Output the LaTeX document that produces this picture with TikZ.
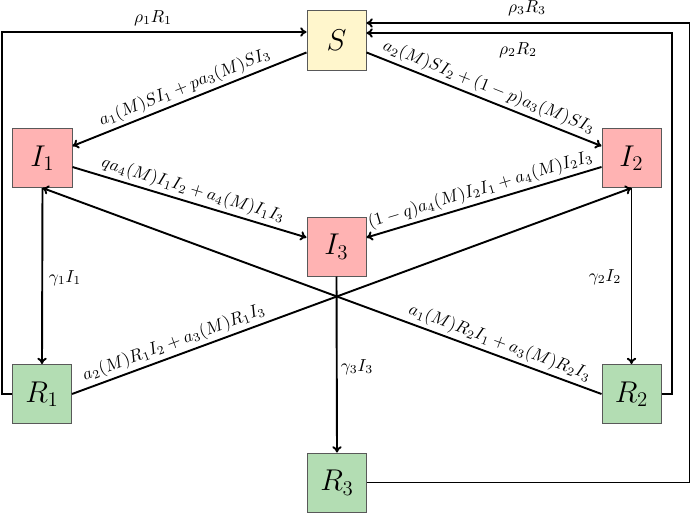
\documentclass[tikz,border=0pt]{standalone}
\usetikzlibrary{calc,arrows.meta}
\definecolor{yfill}{RGB}{255,246,204}
\definecolor{ifill}{RGB}{255,179,179}
\definecolor{rfill}{RGB}{179,221,179}
\begin{document}
\begin{tikzpicture}[x=0.575pt,y=-0.575pt,
  box/.style={draw=black!65, line width=0.5pt, minimum width=34pt, minimum height=34pt, inner sep=0pt, font=\LARGE},
  sbox/.style={box, fill=yfill},
  ibox/.style={box, fill=ifill},
  rbox/.style={box, fill=rfill},
  flow/.style={-{To[length=3.6pt,width=5.4pt]}, line width=1.1pt},
  lab/.style={font=\normalsize, inner sep=1.8pt}]
\useasboundingbox (0,0) rectangle (691,513);
\node[sbox] (S) at (336.5,40.5) {$S$};
\node[ibox] (I1) at (42.5,158) {$I_1$};
\node[ibox] (I2) at (631.5,158) {$I_2$};
\node[ibox] (I3) at (336.5,246.5) {$I_3$};
\node[rbox] (R1) at (42,394) {$R_1$};
\node[rbox] (R2) at (631.5,394) {$R_2$};
\node[rbox] (R3) at (337,482.5) {$R_3$};
\coordinate (kL) at (2,32);
\coordinate (kR2) at (672,33);
\coordinate (kR3) at (689.5,23);
% feedback loops
\draw[flow] (R1.west) -| (kL) -- ($(S.west)+(0,-8.5)$);
\draw[flow] (R2.east) -| (kR2) -- ($(S.east)+(0,-7.5)$);
\draw[flow] (R3.east) -| (kR3) -- ($(S.east)+(0,-17.5)$);
\node[lab] (r1) at (153,18) {$\rho_1R_1$};
\node[lab] (r2) at (518,50) {$\rho_2R_2$};
\node[lab] (r3) at (527,8) {$\rho_3R_3$};
% infections
\draw[flow] (S) -- node[lab, sloped, above] {$a_1(M)SI_1+pa_3(M)SI_3$} (I1);
\draw[flow] (S) -- node[lab, sloped, above] {$a_2(M)SI_2+(1-p)a_3(M)SI_3$} (I2);
\draw[flow] (I1) -- node[lab, sloped, above] {$qa_4(M)I_1I_2+a_4(M)I_1I_3$} (I3);
\draw[flow] (I2) -- node[lab, sloped, above] {$(1-q)a_4(M)I_2I_1+a_4(M)I_2I_3$} (I3);
\draw[flow] (R1.east) -- node[lab, sloped, above, pos=0.19] {$a_2(M)R_1I_2+a_3(M)R_1I_3$} (I2.south);
\draw[flow] (R2.west) -- node[lab, sloped, above, pos=0.19] {$a_1(M)R_2I_1+a_3(M)R_2I_3$} (I1.south);
% recoveries
\draw[flow] (I1.south) -- (R1.north);
\draw[flow] (I2.south) -- (R2.north);
\draw[flow] (I3.south) -- (R3.north);
\node[lab] (g1) at (65,278) {$\gamma_1I_1$};
\node[lab] (g2) at (605,277) {$\gamma_2I_2$};
\node[lab] (g3) at (357,367) {$\gamma_3I_3$};
\end{tikzpicture}
\end{document}
